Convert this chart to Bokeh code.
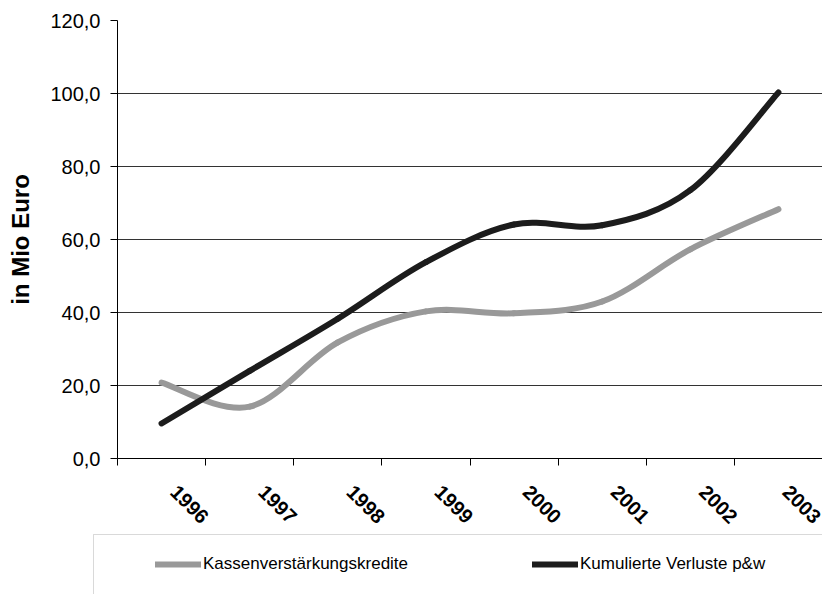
import math
from bokeh.plotting import figure
from bokeh.layouts import column
from bokeh.models import (Range1d, FixedTicker, Legend, LegendItem,
                          ColumnDataSource, BoxAnnotation)
from bokeh.embed import file_html
from bokeh.resources import INLINE

# ---- data ----
years = ["1996", "1997", "1998", "1999", "2000", "2001", "2002", "2003"]
kassen = [20.8, 14.2, 31.8, 40.3, 39.8, 43.0, 57.3, 68.3]
verluste = [9.6, 24.0, 38.3, 53.8, 64.1, 63.9, 73.5, 100.3]
series_names = ["Kassenverstärkungskredite", "Kumulierte Verluste p&w"]
y_ticks = [0, 20, 40, 60, 80, 100, 120]
y_tick_labels = ["0,0", "20,0", "40,0", "60,0", "80,0", "100,0", "120,0"]
y_title = "in Mio Euro"

FONT = "Liberation Sans"
GRAY = "#999999"
BLACK = "#1c1c1c"
LW = 6
LABEL_SHIFT = 0.14  # visual offset of rotated year labels (category units)

n = len(years)
p = figure(frame_width=705, frame_height=438, output_backend="svg",
           toolbar_location=None,
           x_range=Range1d(0, n), y_range=Range1d(0, 120),
           min_border_left=117, min_border_right=0, min_border_top=20,
           min_border_bottom=0)
p.outline_line_color = None
p.background_fill_color = "white"
p.border_fill_color = "white"

# y axis
yax = p.yaxis[0]
yax.ticker = FixedTicker(ticks=y_ticks)
yax.major_label_overrides = {t: l for t, l in zip(y_ticks, y_tick_labels)}
yax.major_label_text_font = FONT
yax.major_label_text_font_size = "20px"
yax.major_label_text_color = "black"
yax.major_tick_out = 7
yax.major_tick_in = 0
yax.minor_tick_out = 0
yax.minor_tick_in = 0
yax.major_label_standoff = 10
yax.axis_line_color = "black"
yax.major_tick_line_color = "black"
yax.axis_label = y_title
yax.axis_label_text_font = FONT
yax.axis_label_text_font_size = "24px"
yax.axis_label_text_font_style = "bold"
yax.axis_label_text_color = "black"
yax.axis_label_standoff = 13

# x axis: tick marks at category boundaries, rotated year labels
xax = p.xaxis[0]
label_pos = [i + 0.5 + LABEL_SHIFT for i in range(n)]
xax.ticker = FixedTicker(ticks=label_pos, minor_ticks=list(range(n + 1)))
xax.major_label_overrides = {pos: yr for pos, yr in zip(label_pos, years)}
xax.major_label_orientation = -math.pi / 4
xax.major_label_text_font = FONT
xax.major_label_text_font_size = "20px"
xax.major_label_text_font_style = "bold"
xax.major_label_text_color = "black"
xax.major_label_standoff = 23
xax.major_tick_out = 0
xax.major_tick_in = 0
xax.minor_tick_out = 7
xax.minor_tick_in = 0
xax.axis_line_color = "black"
xax.minor_tick_line_color = "black"

p.xgrid.visible = False
p.ygrid.ticker = FixedTicker(ticks=y_ticks)
p.ygrid.grid_line_color = "#333333"
p.ygrid.grid_line_width = 1


# smooth curves as cubic Bezier segments through the data points
def bezier_source(vals):
    xs = [i + 0.5 for i in range(len(vals))]
    d = dict(x0=[], y0=[], x1=[], y1=[], cx0=[], cy0=[], cx1=[], cy1=[])
    m = len(vals)
    for i in range(m - 1):
        ip = max(i - 1, 0)
        inn = min(i + 2, m - 1)
        d["x0"].append(xs[i]); d["y0"].append(vals[i])
        d["x1"].append(xs[i + 1]); d["y1"].append(vals[i + 1])
        d["cx0"].append(xs[i] + (xs[i + 1] - xs[ip]) / 6)
        d["cy0"].append(vals[i] + (vals[i + 1] - vals[ip]) / 6)
        d["cx1"].append(xs[i + 1] - (xs[inn] - xs[i]) / 6)
        d["cy1"].append(vals[i + 1] - (vals[inn] - vals[i]) / 6)
    return ColumnDataSource(d)


p.bezier(x0="x0", y0="y0", x1="x1", y1="y1", cx0="cx0", cy0="cy0",
         cx1="cx1", cy1="cy1", source=bezier_source(kassen),
         line_color=GRAY, line_width=LW, line_cap="round")
p.bezier(x0="x0", y0="y0", x1="x1", y1="y1", cx0="cx0", cy0="cy0",
         cx1="cx1", cy1="cy1", source=bezier_source(verluste),
         line_color=BLACK, line_width=LW, line_cap="round")

# ---- legend strip below the chart (pixel-like ranges, y from top) ----
LH = 62
can_unalign = "frame_align" in p.properties()
x_lo = 0 if can_unalign else 117
p2 = figure(width=822, height=LH, output_backend="svg", toolbar_location=None,
            x_range=Range1d(x_lo, 822), y_range=Range1d(LH, 0),
            x_axis_location=None, y_axis_location=None,
            min_border_left=0, min_border_right=0, min_border_top=0,
            min_border_bottom=0)
if can_unalign:
    p.frame_align = False
    p2.frame_align = False
p2.grid.visible = False
p2.outline_line_color = None
p2.background_fill_color = "white"
p2.border_fill_color = "white"

xs_pos = [i + 0.5 for i in range(n)]
lk = p2.line(x=xs_pos, y=kassen, line_color=GRAY, line_width=LW,
             line_cap="round", visible=False)
lv = p2.line(x=xs_pos, y=verluste, line_color=BLACK, line_width=LW,
             line_cap="round", visible=False)

box_left = 93 if can_unalign else 117.5
p2.add_layout(BoxAnnotation(left=box_left, right=3000, top=2, bottom=500,
                            fill_alpha=0, line_color="#808080",
                            line_width=1))

legend = Legend(items=[LegendItem(label=series_names[0], renderers=[lk]),
                       LegendItem(label=series_names[1], renderers=[lv])],
                location=(155 - x_lo, 19), orientation="horizontal",
                padding=0, margin=0, spacing=29, glyph_width=46,
                glyph_height=22, label_width=300, label_height=22,
                label_standoff=2, border_line_color=None,
                background_fill_alpha=0, inactive_fill_alpha=0,
                label_text_font=FONT, label_text_font_size="17px",
                label_text_color="black")
p2.add_layout(legend)

open("out.html", "w").write(file_html(column(p, p2, spacing=0), INLINE))
